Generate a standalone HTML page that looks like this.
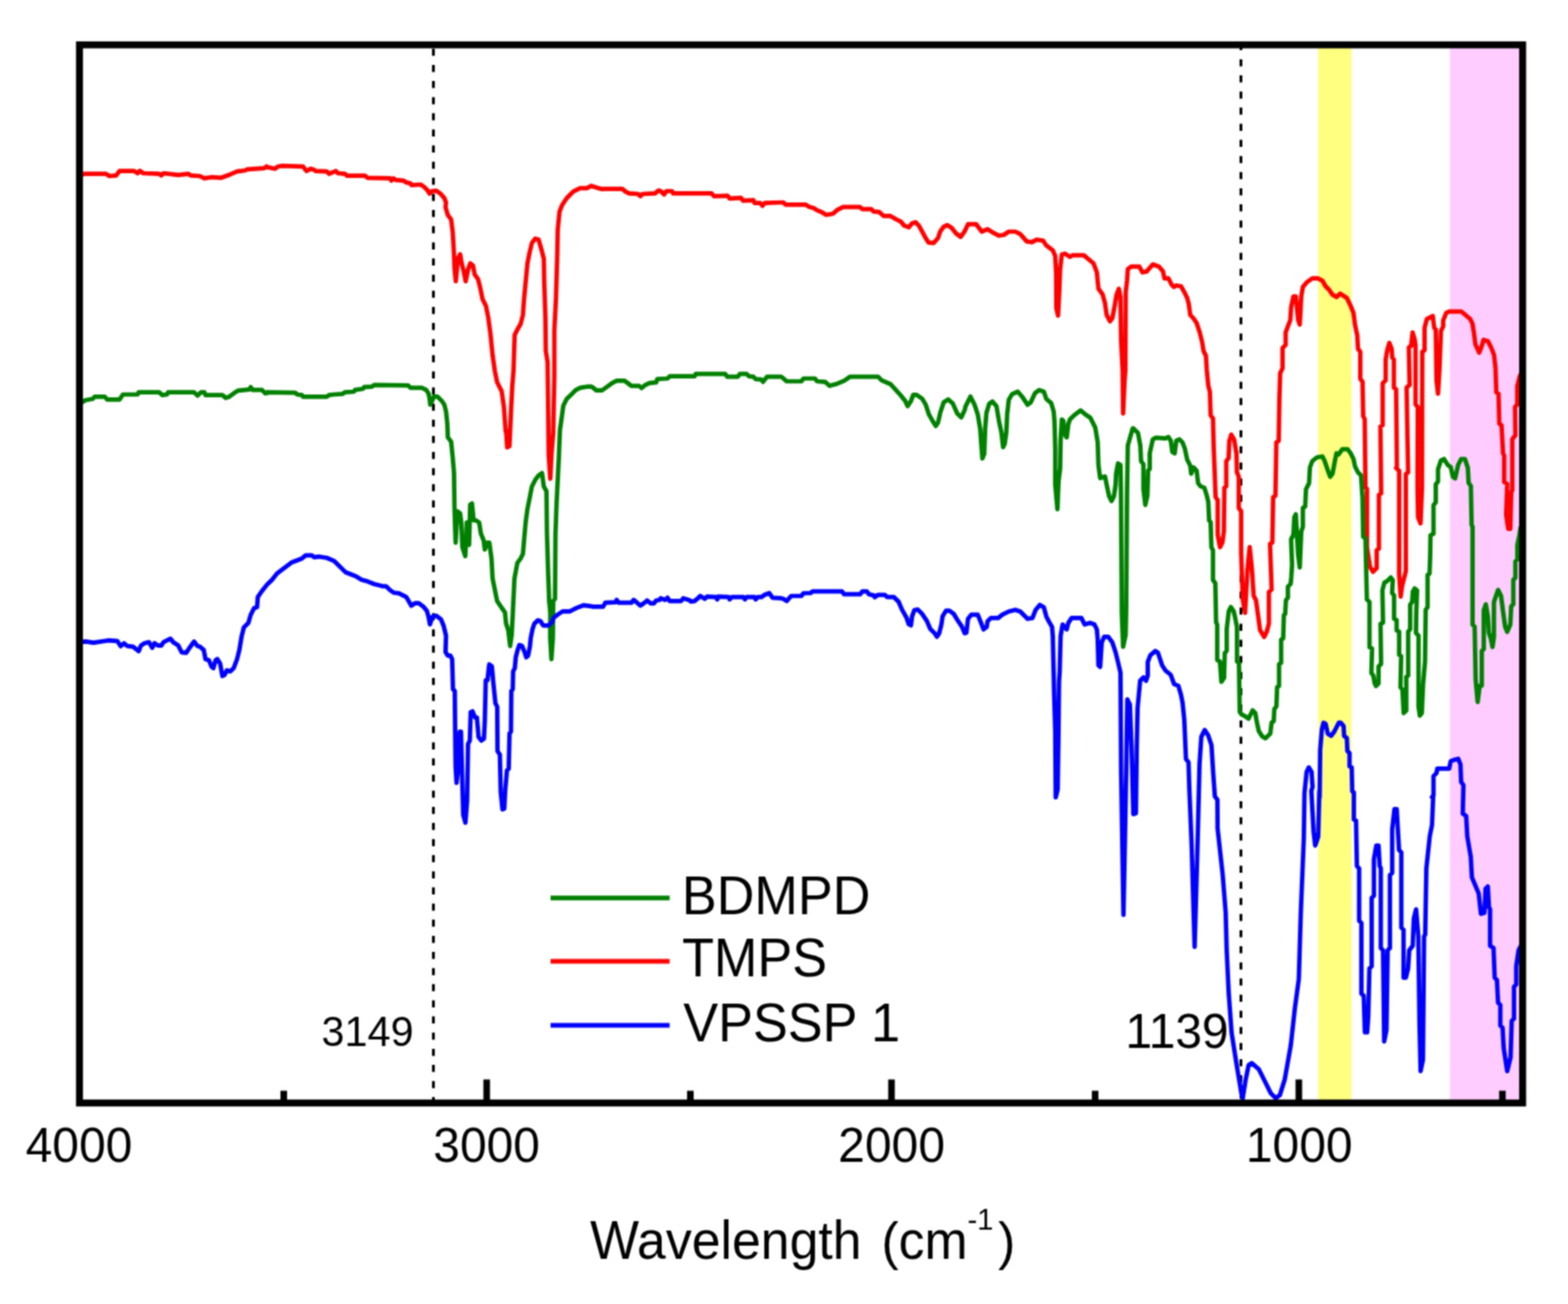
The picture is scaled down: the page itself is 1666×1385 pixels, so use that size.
<!DOCTYPE html>
<html><head><meta charset="utf-8"><title>FTIR spectra</title>
<style>
html,body{margin:0;padding:0;background:#fff;}
svg{display:block;}
text{font-family:"Liberation Sans",Arial,sans-serif;fill:#000;}
</style></head>
<body>
<svg width="1666" height="1385" viewBox="0 0 1666 1385">
<defs><filter id="soft" color-interpolation-filters="sRGB" filterUnits="userSpaceOnUse" x="0" y="0" width="1666" height="1385"><feConvolveMatrix order="3" kernelMatrix="1 2 1 2 4 2 1 2 1" edgeMode="duplicate"/></filter>
<clipPath id="plot"><rect x="88" y="51.3" width="1526.3" height="1116.7"/></clipPath></defs>
<g filter="url(#soft)">
<rect x="0" y="0" width="1666" height="1385" fill="#fff"/>
<rect x="1400.5" y="50" width="35.5" height="1120" fill="#ffff80"/>
<rect x="1540.5" y="50" width="75" height="1120" fill="#ffccff"/>
<g stroke="#000" stroke-width="3" fill="none">
<line x1="460.5" y1="51.82" x2="460.5" y2="1170" stroke-dasharray="7.5 9.63"/>
<line x1="1318.5" y1="45.8" x2="1318.5" y2="1170" stroke-dasharray="7.5 9.63"/>
</g>
<g fill="none" stroke-width="4.7" stroke-linejoin="round" stroke-linecap="round" clip-path="url(#plot)">
<polyline stroke="#ff0000" points="85,186.4 89.8,184.6 112.6,184.6 116.2,187 123.4,186.4 127,181.6 142.6,181.6 146.2,184 148.6,181.4 152.2,184 169,184.6 171.4,186.4 173.8,184 189.4,185.8 200.2,184.6 202.6,186.4 212.3,187 217.1,189.4 224.3,188.2 235.1,188.8 244.7,185.2 251.9,182.2 260.3,181 262.7,179.8 280.7,178.6 283.1,176.8 283.6,177.4 292,179.2 295.6,176.8 299.2,176.2 322,176.8 325.6,181.6 330.4,179.2 334,180.4 335.2,181.6 347.2,182.2 349.6,184.6 356.8,181.6 359.2,184 366.4,184.6 368.8,186.7 388,186.7 390.4,188.8 414.5,189.4 415.7,191.8 418.1,189.4 420.5,191.2 428.9,191.8 431.3,193.6 436.1,194.8 437.3,196.6 446.9,196 450.5,198.4 454.1,202 456.5,205.6 458.9,203.2 463.7,202.6 468.5,206.2 472.1,210.4 473.9,215.2 473.4,220.1 475.8,228.4 479.3,233.2 481,246.3 482.4,270.1 482.9,284.4 484.3,298.7 486.5,274.9 488.9,270.1 490.5,279.7 492.4,286.8 494.8,298.7 497.2,286.8 499.6,279.7 502.5,282 504.4,291.6 507.9,296.3 510.3,305.9 512.7,317.8 516.3,324.9 518.7,336.9 521,353.6 523.4,377.4 525.8,394.1 528.2,406 533,415.5 535.4,432.2 537.3,458.4 537.7,457.2 538.9,475.1 541.3,473.9 543,435.8 544.4,408.4 545.6,394.1 546.8,355.9 549.7,350 553.2,344 555.6,334.5 556.8,317.8 558.5,299.9 560.4,279.7 562.8,267.7 565.1,258.2 568.7,253.4 572.3,254.6 575.4,265.4 577.8,274.9 578.3,301.1 579.5,336.9 579.9,372.6 581.8,384.5 582.6,447.7 583,483.4 584.7,508.5 585.9,483.4 587.8,459.6 589,400 589,351.2 590.7,317.8 592.1,270.1 592.6,243.9 594.5,224.8 597.3,217.7 602.1,210.5 609.2,203.4 616.4,199.8 623.6,199.8 628.3,197.4 635.5,199.8 640,201 640.8,200.6 661.2,200.6 664.8,203.6 668.4,205.4 678,206 680.4,208.4 682.8,206 696,205.4 699.6,202.4 702,203 705.6,206.6 708,203 714,203 715.2,205.4 756.1,205.4 758.5,208.4 772.9,207.8 775.3,210.8 787.3,210.2 789.7,213.2 800.5,212.6 801.7,215.6 807.7,215.6 810.1,218.6 812.5,215.6 830,215 832.2,215 834.6,217.4 856.2,217.4 859.8,219.8 864.6,221 868.2,223.4 873,225.2 877.8,228.2 885,227 889.8,222.8 895.8,219.8 913.8,219.8 916.2,222.2 925.8,222.2 928.2,224.6 934.2,225.2 939,229.4 946.2,229.4 952.3,233 957.1,235.4 960.7,239.6 965.5,241.4 969.1,237.2 972.7,236 976.3,239.6 979.9,246.2 983.5,252.8 986.5,257.6 991.9,258.2 996.7,252.8 999.1,245.6 1002.7,240.8 1006.3,239 1011.1,242 1015.9,248 1020.7,251.6 1025,245.6 1028.5,238.2 1037.2,238.2 1043.2,246 1049.3,243.4 1056.2,247.7 1061.4,250.3 1066.6,249.5 1071.8,246 1078.8,246 1084,248.6 1090.9,256.4 1096.1,257.3 1101.3,254.7 1108.2,255.5 1111.7,260.7 1118.6,265.9 1121.2,272 1122.1,289.3 1122.4,327.4 1124.2,335.2 1125.6,306.6 1126.4,285.8 1128.2,270.3 1131.6,269.4 1136.8,272.9 1139.4,271.1 1151.6,271.1 1156.8,275.5 1161.9,279.8 1165.4,289.3 1167.1,306.6 1171.5,312.7 1174.1,322.2 1175.8,334.4 1179.3,341.3 1181.9,337.8 1184.5,324 1186.2,313.6 1188.8,306.6 1190.5,315.3 1191.2,362.1 1192.8,393.3 1193.3,439.2 1194.9,403.7 1195.7,393.3 1196.1,310.1 1197.5,298 1198.3,285.8 1201.8,283.2 1210.5,283.2 1213.9,289.3 1218.3,288.4 1224.9,280.8 1231.5,283.2 1235.7,288.2 1237.3,295.7 1241.5,295.7 1244.8,302.3 1247.3,304.8 1249.8,303.2 1254.8,304 1258.1,309.8 1261.4,316.5 1263.1,323.1 1264.7,334.7 1268.1,338.1 1271.4,343 1274.7,353 1277.2,363 1278.8,372.9 1281.3,377.9 1282.2,392.9 1283.8,409.5 1285.5,416.1 1286.3,441 1288.8,444.3 1289.6,475.9 1291.6,528 1293.8,531.3 1293.8,567.9 1296.3,581.2 1298.8,576.2 1300.4,564.5 1300.9,518.1 1302.9,516.4 1302.9,489.8 1305.4,486.5 1306.2,468.2 1308.2,461.6 1311.2,466.6 1313.7,481.5 1314.2,501.4 1316.2,506.4 1316.2,539.6 1318.7,543 1318.7,586.1 1320.4,636 1322.9,650.9 1325.3,606.1 1327.8,581.2 1330.3,606.1 1332,632.6 1334.5,637.6 1337,655.9 1338.8,669.3 1343.2,676.6 1346,670.8 1348.2,662.1 1348.2,628.9 1351.1,626 1349.4,577.8 1351.9,576.2 1352.7,528 1355.2,526.4 1356.1,469.9 1358.6,468.2 1359.4,422.7 1360.2,396.2 1362.7,391.2 1362.7,369.6 1366,366.3 1366,353 1368.5,346.4 1371,339.7 1371.8,326.4 1374.3,314.8 1376.8,314.8 1379.3,339.7 1381,344.7 1382.6,314.8 1384.3,304.8 1388.4,299.9 1394.3,295.7 1400.1,295.7 1405.1,298.2 1408.4,304 1412.5,308.2 1415.8,313.1 1420,315.6 1423.8,311.8 1431,316.5 1434.9,324.5 1438.1,332.4 1439.7,345.1 1442.1,356.2 1442.9,370.5 1445.3,373.7 1445.3,402.3 1447.7,405.5 1448.4,442 1450,445.2 1450.8,517.7 1452.4,519.2 1452.4,581.2 1455.6,601.8 1458.8,607.4 1462.7,603.4 1462.7,584.4 1465.1,582.8 1465.1,525.6 1467.5,524 1466.7,453.1 1469.1,451.6 1469.1,407.1 1472.3,403.9 1472.3,381.7 1473.9,372.1 1476.2,364.2 1478.6,370.5 1479.4,380.1 1481,381.7 1481,411.8 1483.4,413.4 1484.2,496 1483.4,497 1486.6,500.2 1486.6,609.8 1488.2,633.6 1489.7,622.5 1493.7,606.6 1493.7,503.4 1496.1,501.8 1494.5,411.8 1497.7,408.7 1496.9,369 1499.3,367.4 1500.9,353.1 1503.2,361 1504,367.4 1504,429.3 1506.4,432.5 1506.1,517.7 1506.7,549.4 1509.3,555.8 1510.9,517.7 1511.2,373.7 1513.6,372.1 1513.6,348.3 1516,338.8 1522.3,335.6 1523.9,348.3 1525.5,349.9 1526.3,403.9 1527.9,418.2 1529.5,391.2 1531,351.5 1533.4,346.7 1533.4,340.4 1536.6,332.4 1539.8,330.8 1552.5,330.8 1557.3,334.8 1562,338.8 1564.4,343.5 1566,353.1 1567.6,365.8 1571.6,374.5 1573.9,369 1576.3,361 1581.1,362.6 1584.3,369 1587.4,376.9 1589,391.2 1589.8,416.6 1592.2,418.2 1593,450 1595.4,451.6 1597,481.7 1598.2,483.8 1598.2,511.9 1601.4,514.1 1600.3,546.6 1602.5,561.7 1604.7,561.7 1605.7,522.8 1606.8,520.6 1606.8,466.5 1610.1,462.2 1609.7,432.5 1612.1,429.3 1612.1,410.3 1614.4,400.7 1616,396.8"/>
<polyline stroke="#008000" points="85,428.6 91,425 98.2,423.8 100.6,421.4 111.4,421.4 113.8,424.4 127,424.4 130.6,419 146.2,419 147.4,416.6 169,416.6 172.6,419.6 177.4,419 178.6,416.6 206.2,416.6 209.8,420.2 213.5,416.6 217.1,416.6 218.3,419.6 236.3,419.6 239.9,422.6 243.5,421.4 248.3,417.8 253.1,414.8 265.1,413.6 266.3,411.2 268.7,414.2 278.3,414.2 281.9,417.8 285,417.2 283.6,416.6 313.6,417.2 316,419 320.8,419.6 322,421.4 347.2,421.4 349.6,419.6 354.4,419 364,418.4 366.4,416.6 376,416 377.2,414.2 385.6,413 386.8,411.2 395.2,410.6 397.6,408.8 433.7,409.4 436.1,411.8 448.1,411.8 452.9,414.2 455.3,417.8 456.5,423.8 457.1,429.8 458.9,426.2 461.3,420.8 464.9,421.4 469.7,426.2 472.1,429.8 473.9,437 475.3,450.1 475.8,464.4 479.3,469.1 481,485.8 482.4,502.5 482.9,539.5 484.1,576.4 486,543 488.9,545.4 490.1,554.9 491.3,581.2 494.4,590.7 496,554.9 497.2,566.9 498.4,578.8 499.6,535.9 501.5,534.7 503.2,552.6 505.6,552.6 509.1,554.9 511,566.9 513.9,574 515.1,583.6 517.5,576.4 519.9,576.4 522.2,593.1 523.4,614.5 525.8,626.5 528.2,638.4 533,645.5 536.5,650.3 537.7,662.2 540.1,669.4 542,686.1 543.7,674.1 544.9,650.3 546.6,614.5 549.7,597.9 553.2,593.1 555.6,588.3 556.8,574 558.5,554.9 560.4,540.6 562.8,528.7 565.1,516.8 568.7,509.7 572.3,504.9 575.9,502.5 577.8,516.8 580.6,521.6 581.1,564.5 582.3,605 583.5,638.4 584.7,650.3 584.6,677.6 585.9,700.1 587.4,677.6 587.8,638.4 589.7,636 590.2,566.9 591.4,533.5 593.8,485.8 594.9,457.2 596.9,442.9 598.5,431 602.1,423.8 606.9,419.1 611.6,414.3 616.4,411.9 623.6,410.7 628.3,410.7 630,411.6 633.6,414.6 639.6,414.6 645.6,410.4 650.4,406.8 655.2,404.4 663.6,404.4 668.4,408 670.8,409.8 679.2,409.8 681.6,412.2 685.2,409.2 690,406.8 697.2,406.2 698.4,402.6 709.2,402 711.6,399.6 738,399.6 739.2,397.2 770.5,397.2 772.9,400.2 783.7,400.2 786.1,397.2 793.3,397.2 795.7,399.6 800.5,400.2 802.9,402.6 808.9,403.2 810.7,405.6 814.9,400.2 830,400.2 831,400.8 835.8,405 851.4,405 853.8,402 865.8,402 868.2,405 876.6,405.6 881.4,409.8 889.8,407.4 897,404.4 903,400.2 933,400.2 936.6,403.8 946.2,408 951.1,413.4 957.1,420 961.9,426 964.3,431.4 967.9,426 970.3,419.4 973.9,419.4 979.9,423.6 983.5,429.6 987.1,440.4 991.9,448.8 994.3,452.4 996.7,448.8 999.1,438 1002.7,427.2 1007.5,424.2 1012.3,428.4 1017.1,439.2 1021.3,443.4 1025,435.6 1025.9,431.6 1031.1,421.2 1035.5,429.9 1038.9,440.3 1041.5,455.8 1042.7,473.2 1043.8,487 1045.8,481.8 1046.7,455.8 1048.1,438.5 1051,429 1054.5,426.4 1058.8,431.6 1061.4,447.2 1064,459.3 1065.8,474.9 1067.5,471.4 1069.2,459.3 1070.1,440.3 1071.8,424.7 1075.3,418.6 1081.4,416 1086.6,422.1 1091.8,429.9 1095.2,427.3 1099.6,417.7 1103.9,414.3 1109.1,416 1111.7,423.8 1116.9,428.1 1119.5,436.8 1120.4,447.2 1121.2,476.6 1121.2,514.8 1123.5,540.8 1124.7,511.3 1126.4,497.4 1126.9,468 1128.2,445.5 1129.9,447.2 1130.8,459.3 1132.1,462.8 1133.4,464.5 1135.1,450.6 1136.8,445.5 1141.2,441.1 1148.1,435.9 1153.3,440.3 1158.5,443.7 1163.7,454.1 1166.3,469.7 1167.1,494 1168.9,507.8 1174.1,506.1 1175.8,514.8 1178.4,526.9 1181,532.1 1183.6,526.9 1185.3,514.8 1185.9,502.6 1187.9,492.2 1190.5,494 1191.1,528.6 1191.9,650.8 1193.3,686.9 1196,674.3 1196.6,647.2 1197.5,521.7 1198.3,473.2 1203.5,455 1204.1,454.9 1209.1,459.9 1211.6,473.2 1212.4,489.8 1214.9,493.1 1214.9,519.7 1216.9,536.3 1219.1,526.4 1219.9,499.8 1221.6,498.1 1221.6,481.5 1224.9,466.6 1228.2,464.9 1238.2,465.7 1241.5,464.1 1244,468.2 1245.6,479.9 1248.1,481.5 1249.8,468.2 1253.1,466.6 1256.4,469.9 1258.9,476.5 1261.4,488.2 1264.7,494.8 1265.6,503.1 1268.1,496.5 1271.4,499.8 1273,513.1 1275.5,516.4 1279.7,518.1 1282.2,526.4 1283.8,533 1284.7,552.9 1286.3,554.6 1287.1,581.2 1288.8,584.5 1288.8,616 1291.3,619.4 1292.1,660.9 1293.3,663.6 1293.3,701.1 1296.2,702.5 1297.7,724.2 1300.6,719.9 1301.3,693.9 1303.4,691 1303.4,667.9 1305.6,649.1 1307.8,644.8 1310.7,649.1 1312.1,654.9 1314.3,666.4 1314.3,702.5 1316.4,704 1317.2,756 1319.3,758.9 1322.2,760.3 1326.6,763.2 1330.9,754.5 1333.8,757.4 1335.2,766.1 1337.4,776.2 1341,782 1344.6,784.2 1349.7,779.1 1351.1,767.5 1353.3,766.1 1354,753.1 1356.2,750.2 1356.9,730 1359,728.5 1359,705.4 1361.2,704 1361.2,679.4 1363.4,678 1364.1,653.4 1365.5,652 1366.3,637.6 1368.4,634.7 1368.4,623.1 1371.3,620.2 1372,613 1372.8,600 1371.8,572.9 1374.3,567.9 1375.2,549.6 1376.8,546.3 1379.3,589.5 1381,602.7 1382.6,564.5 1384.3,559.6 1384.3,539.6 1386.8,538 1387.6,519.7 1390.9,513.1 1391.8,496.5 1394.3,489.8 1399.2,485.7 1405.1,484.8 1407.5,489.8 1410.9,499.8 1413.4,506.4 1415.8,503.1 1418.3,489.8 1420,481.5 1422.2,482.7 1426.2,477.1 1431.8,477.1 1434.9,481.1 1438.1,487.5 1439.7,495.4 1442.9,501.8 1446.1,504.9 1446.9,517.7 1447.7,528.8 1448.4,570.1 1450.8,571.7 1452.3,636.6 1455.1,639.4 1455.1,687.4 1457.8,688.8 1457.1,714.8 1459.2,717.6 1460.6,725.8 1462,728.6 1464.7,725.8 1464.7,708 1467.4,705.2 1466.8,662.7 1469.5,661.3 1468.8,627 1470.9,618.8 1473.6,617.4 1477.7,613.3 1479.8,616.1 1479.1,629.8 1481.2,632.5 1481.2,657.2 1483.9,658.6 1483.9,669.6 1486.6,670.9 1486.6,695.6 1488.7,697 1488,729.9 1490.1,732.7 1491.4,757.4 1494.2,754.6 1494.2,719 1496.2,717.6 1496.2,670.9 1498.3,668.2 1498.3,642.1 1500.4,639.4 1501.1,628.4 1503.1,625 1505.6,627 1504.8,650.4 1504.5,672.3 1507.2,675.1 1507.2,750.5 1508.6,760.1 1510.7,757.4 1512,727.2 1514.1,702.5 1514.8,647.6 1516.8,644.9 1516.8,610.6 1518.9,609.2 1519.6,590 1519.9,568.5 1523.1,566.9 1523.1,536.7 1525.5,533.5 1525.5,514.5 1527.9,511.3 1527.9,498.6 1531,489.1 1534.2,487.5 1538.2,493.8 1541.4,496.2 1543.8,506.5 1546.1,508.1 1549.3,493.8 1552.5,487.5 1556.5,487.5 1559.6,497 1560.4,512.9 1562.8,516.1 1563.6,557.4 1564.6,559.5 1564.6,663.4 1566.8,665.6 1567.9,721.8 1570,745.6 1572.2,728.3 1574.4,728.3 1574.4,691.5 1576.5,689.4 1576.5,648.3 1578.7,641.8 1580.9,654.8 1581.9,672.1 1584.1,678.6 1585.8,687.2 1587.3,676.4 1587.3,639.6 1591.7,626.6 1594.9,633.1 1597.1,650.4 1599.2,665.6 1601.4,671 1604.7,663.4 1605.7,643.9 1607.9,641.8 1607.9,615.8 1610.1,613.6 1610.1,596.3 1612.2,594.2 1612.2,579 1614.4,568.2 1615.5,560.6"/>
<polyline stroke="#0000ff" points="85,682 91,681.4 99.4,682.6 115,680.2 124.6,680.8 128.2,686.2 131.8,683.2 135.4,686.2 141.4,686.8 147.4,691.6 149.8,685.6 153.4,683.2 158.2,682 161.8,688 164.2,683.2 167.8,685.6 171.4,685.6 173.8,682 181,678.4 184.6,682.6 189.4,685.6 193,692.8 197.8,693.4 201.4,688 206.2,681.4 209.8,686.2 212.3,686.8 216.5,690.4 218.3,700 221.9,701.2 224.9,708.4 226.7,709.6 229.1,701.2 230.9,700 233.9,704.8 236.3,718 238.7,716.8 241.1,712 244.7,713.2 248.3,709.6 251.9,700 254.3,690.4 256.7,676 259.1,666.4 263.9,661.6 266.3,653.2 269.9,646 273.2,644.7 273.9,634.1 278.5,627.5 283.8,620.9 289.1,615.7 294.3,609.1 299.6,605.1 304.9,601.1 310.2,597.2 315.5,595.2 320.7,593.2 324.7,589.9 331.3,589.9 333.9,591.9 339.2,591.2 347.2,592.5 355.1,595.8 360.4,601.1 367,607.7 372.2,609.7 378.8,612.4 384.1,615.7 390.7,617.6 397.3,620.3 405.3,622.3 410.5,622.9 414.5,626.9 418.5,629.5 423.7,630.2 431.7,634.1 435.6,640.7 437,643.4 440.9,640.7 444.9,640.7 450.2,644.7 453.5,648.7 455.4,655.3 456.8,663.2 459.4,655.3 463.4,653.9 468.6,657.9 471.3,664.5 473.9,675.1 473.4,692.6 475.7,696.3 478.5,696.3 480.4,700.1 481.3,732 483.2,733.9 483.6,775.2 484.1,814.6 485.1,831.5 486.9,814.6 488.5,777.1 489.8,777.1 490.7,812.8 492.2,865.4 494.5,873.8 496.3,850.3 497.3,790.2 499.2,786.5 500.1,756.4 502,755.5 504.8,762.1 506.7,762.1 508.5,782.7 511.4,786.5 514.2,784.6 515.1,765.8 516.1,722.6 517.9,722.6 519.8,705.7 522.6,707.6 524.1,724.5 526.4,747 528.3,750.8 528.6,797.7 531.1,801.5 532,840.9 533.9,859.7 535.8,858.8 536.7,840.9 538.6,818.4 540.5,816.5 541.4,779 542.9,777.1 543.3,733.9 544.8,732 545.2,713.2 547,709.5 548,698.2 549.9,690.7 551.7,685.1 554.6,686 557.4,692.6 559.2,698.2 561.1,696.3 563,686.9 563.9,677.6 565.8,668.2 567.7,662.5 571.5,658.8 574.3,659.7 577.1,664.4 582.7,664.4 586.5,660.7 588.4,656 592.1,653.1 597.7,649.4 605.3,649.4 609,647.5 612.8,645.6 620.3,642.8 627.8,643.8 630,644.4 640.8,644.4 643.2,640.2 654,639.6 655.2,637.2 657.6,640.2 670.8,640.2 673.2,637.2 675.6,639 680.4,643.2 684,640.8 687.6,637.8 691.2,640.8 694.8,640.8 697.2,637.8 700.8,637.2 702,635.4 706.8,637.2 709.2,634.8 711.6,638.4 723.6,638.4 726,635.4 732,637.2 734.4,639 738,638.4 741.6,635.4 744,633 748.8,636 751.2,633.6 760.9,634.2 762.1,636.6 763.3,633.6 774.1,634.2 775.3,636.6 777.7,634.2 789.7,634.2 791.5,636.6 793.3,634.2 801.7,634.2 802.9,636.6 805.3,634.2 808.9,634.2 812.5,631.8 817.3,630 820.9,634.8 830,635.4 832.2,636 835.8,638.4 840.6,633 851.4,633 853.8,630 861,630 863.4,628.2 894.6,628.2 897,631.2 913.8,631.2 916.2,628.2 921,628.2 923.4,631.2 928.2,632.4 929.4,634.2 933,631.8 940.2,631.8 942.6,634.2 949.8,634.2 954.7,639 958.3,647.4 963.1,655.8 965.5,663 967.9,664.2 969.1,654.6 971.5,648 975.1,647.4 979.9,652.2 984.7,659.4 988.3,667.8 993.1,672.6 995.5,676.2 997.9,672.6 1000.3,663 1001.5,654.6 1005.1,648.6 1008.7,648.6 1013.5,652.2 1017.1,658.2 1021.9,665.4 1025,672.6 1026.8,672 1028.5,657.3 1032,652.9 1038.9,652.9 1042.4,661.6 1045,668.5 1048.4,665.9 1049.3,659.9 1052.8,656.4 1060.6,656.4 1064.9,652.9 1071.8,649.5 1078.8,647.7 1084,649.5 1089.2,654.7 1091.8,657.3 1097,656.4 1100.4,647.7 1104.8,642.5 1109.1,645.1 1111.7,654.7 1114.3,659.9 1117.8,665.9 1118.6,675.5 1119.5,713.6 1120,736.1 1121.2,776 1121.7,847 1123.8,838.3 1124.7,776 1125.2,724 1125.9,713.6 1126.9,675.5 1129,663.3 1133.4,668.5 1135.1,661.6 1138.6,656.4 1149,656.4 1152.4,663.3 1158.5,661.6 1162.8,663.3 1165.4,668.5 1166.3,678.9 1167.1,706.6 1168.9,708.4 1170.6,682.4 1173.2,676.3 1177.5,676.3 1181.9,682.4 1185.3,692.8 1187.9,703.2 1190.5,714.4 1191.2,820.5 1193.7,971.6 1196.6,820.5 1197.8,742.9 1200.5,748.3 1202.3,795.2 1204.2,864.7 1206.9,863.8 1207.8,793.4 1208.7,751.9 1211.4,723 1215,719.4 1217.7,723 1219.5,717.6 1219.5,703.2 1222.2,696 1227.6,691.4 1230.3,693.2 1234.8,706.8 1238.4,712.2 1243.9,716.7 1247.5,726.6 1252,728.4 1254.7,737.5 1256.5,746.5 1258.3,764.5 1260.1,806.1 1262.8,809.7 1263.7,838.6 1266.1,897 1269.3,1005.6 1272.4,897 1274.5,811.5 1276.4,782.6 1280,775.4 1283.6,780.8 1287.2,791.6 1289,820.5 1290.8,845.8 1293.5,849.4 1293.7,880 1299.1,929 1302.3,969.4 1303.3,1007.8 1305.5,1054.6 1308.6,1097.2 1314,1131.3 1319.3,1163.2 1320.4,1166.4 1323.6,1146.2 1326.7,1131.3 1329.9,1129.1 1337.4,1135.5 1343.8,1148.3 1350.2,1161.1 1355.5,1166.4 1359.8,1163.2 1365.1,1146.2 1371.5,1110 1375.7,1071.7 1380,1039.7 1382.1,969.4 1385.3,890.6 1386,842.8 1388.3,819.7 1390.6,815.1 1393.5,819.7 1394.6,835.8 1393.3,840 1395.7,883.5 1397.4,898.1 1400.6,888.4 1401.8,840 1402.1,847.4 1402.7,796.6 1404.5,774.6 1406.2,767.7 1408.5,768.9 1410.8,779.3 1414.3,781.6 1417.7,777 1422.4,767.7 1424.7,767.7 1427.6,771.2 1428.1,781.6 1431,783.9 1431.6,797.7 1433.9,800 1433.9,813.9 1436.2,815.1 1436.8,840.5 1438.5,841.6 1438.5,870.5 1440.8,871.6 1441.7,919.8 1444.1,922.3 1444.1,977.9 1446.5,980.3 1446.5,1055.3 1449,1057.7 1450.2,1096.5 1452.6,1096.5 1453.8,1079.5 1455,1028.7 1457.4,1026.3 1457.4,953.7 1459.8,951.3 1459.8,912.6 1462.3,898.1 1464.7,898.1 1465.9,919.8 1467.1,922.3 1467.1,1006.9 1469.5,1009.4 1470.7,1106.1 1473.1,1094 1474.4,1009.4 1476.8,1006.9 1476.8,929.5 1479.2,927.1 1479.2,881.1 1481.6,859.4 1484,859.4 1486.5,902.9 1488.9,905.3 1488.9,985.2 1491.3,987.6 1491.3,1038.4 1493.7,1038.4 1496.1,1028.7 1497.3,1009.4 1501,1004.5 1502.2,975.5 1504.6,965.8 1507,994.8 1508.2,1086.8 1509.4,1137.6 1511.9,1125.5 1513.1,994.8 1514.3,992.4 1515.5,922.3 1519.1,888.4 1521.5,876.3 1522.7,847.3 1521.5,846.5 1523.1,844.9 1523.1,824.3 1526.3,821.1 1527.1,816.3 1539.8,816.3 1541.4,808.4 1546.1,806.8 1549.3,806 1551.7,811.6 1552.5,830.6 1554.9,833.8 1554.2,864.2 1557.8,866.6 1559,888.4 1562.7,910.2 1563.9,931.9 1571.1,948.9 1573.5,970.6 1577.2,969.4 1578.4,944 1580.8,941.6 1582,963.4 1583.2,965.8 1583.2,1004.5 1586.9,1006.9 1588.1,1038.4 1590.5,1040.8 1591.7,1065 1594.1,1067.4 1594.1,1089.2 1596.5,1091.6 1597.7,1113.4 1601.4,1137.6 1605,1123.1 1606.2,1084.4 1608.6,1081.9 1608.6,1048.1 1611,1045.6 1611,1026.3 1613.5,1009.4 1615.9,1004.5"/>
</g>
<g stroke="#000" stroke-width="7">
<line x1="301.5" y1="1158.5" x2="301.5" y2="1170"/>
<line x1="517.1" y1="1146.5" x2="517.1" y2="1170"/>
<line x1="733.5" y1="1158.5" x2="733.5" y2="1170"/>
<line x1="947.2" y1="1146.5" x2="947.2" y2="1170"/>
<line x1="1163.6" y1="1158.5" x2="1163.6" y2="1170"/>
<line x1="1380" y1="1146.5" x2="1380" y2="1170"/>
<line x1="1596.3" y1="1158.5" x2="1596.3" y2="1170"/>
</g>
<rect x="84.45" y="47.65" width="1533.35" height="1123.85" fill="none" stroke="#000" stroke-width="7.4"/>
<text x="83.9" y="1234.2" font-size="51" text-anchor="middle">4000</text>
<text x="517.0" y="1234.2" font-size="51" text-anchor="middle">3000</text>
<text x="947.3" y="1234.2" font-size="51" text-anchor="middle">2000</text>
<text x="1380.4" y="1234.2" font-size="51" text-anchor="middle">1000</text>
<text x="341.6" y="1110.5" font-size="44">3149</text>
<text x="1195.8" y="1113.3" font-size="51">1139</text>
<g stroke-width="5">
<line x1="585" y1="953.7" x2="711.5" y2="953.7" stroke="#008000"/>
<line x1="585" y1="1020.9" x2="711.5" y2="1020.9" stroke="#ff0000"/>
<line x1="585" y1="1088.9" x2="711.5" y2="1088.9" stroke="#0000ff"/>
</g>
<text transform="translate(724.5,971) scale(1,1.045)" font-size="55.5">BDMPD</text>
<text transform="translate(724.7,1036.8) scale(1,1.04)" font-size="55.5">TMPS</text>
<text transform="translate(726,1106) scale(1,1.04)" font-size="55.5">VPSSP 1</text>
<g transform="translate(0,1336.6) scale(1,1.04)"><text x="627" y="0" font-size="55">Wavelength</text><text x="954.8" y="0" font-size="55">cm</text><text x="1028" y="-29.9" font-size="31">-1</text></g>
<text x="936.5" y="1336.6" font-size="55">(</text><text x="1060.5" y="1336.6" font-size="55">)</text>
</g>
</svg>
</body></html>
